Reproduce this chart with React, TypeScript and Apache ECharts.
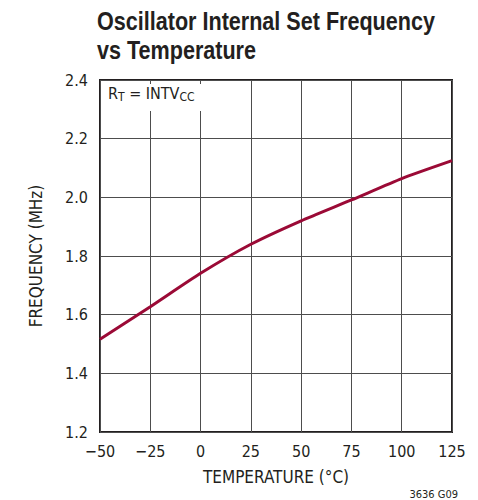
import React, { useEffect, useRef } from "react";
import * as echarts from "echarts";

const temps = [-50, -25, 0, 25, 50, 75, 100, 125];
const freqs = [1.516, 1.627, 1.741, 1.84, 1.92, 1.991, 2.064, 2.125];
const xTicks = [-50, -25, 0, 25, 50, 75, 100, 125];
const yTicks = [1.2, 1.4, 1.6, 1.8, 2.0, 2.2, 2.4];

const FONT = "'DejaVu Sans Condensed', 'Liberation Sans', sans-serif";
const TITLE_FONT = "'Liberation Sans', Arial, sans-serif";
const INK = "#231f20";

export default function App() {
  const ref = useRef<HTMLDivElement>(null);
  useEffect(() => {
    if (!ref.current) return;
    const chart = echarts.init(ref.current, null, { renderer: "svg" });
    chart.setOption({
      animation: false,
      backgroundColor: "#ffffff",
      textStyle: { fontFamily: FONT },
      grid: { left: 100, right: 26, top: 80, bottom: 68, show: true, borderColor: INK, borderWidth: 2 },
      xAxis: {
        type: "value",
        min: -50,
        max: 125,
        interval: 25,
        name: "TEMPERATURE (°C)",
        nameLocation: "middle",
        nameGap: 36,
        nameTextStyle: { fontFamily: FONT, fontSize: 17, color: INK },
        axisLine: { show: false },
        axisTick: { show: false },
        axisLabel: {
          fontFamily: FONT,
          fontSize: 16,
          color: INK,
          margin: 11,
          formatter: (v: number) => (xTicks.includes(v) ? String(v).replace("-", "\u2212") : ""),
        },
        splitLine: { show: true, lineStyle: { color: "#4d4d4d", width: 1 } },
      },
      yAxis: {
        type: "value",
        min: 1.2,
        max: 2.4,
        interval: 0.2,
        name: "FREQUENCY (MHz)",
        nameLocation: "middle",
        nameGap: 56,
        nameTextStyle: { fontFamily: FONT, fontSize: 17, color: INK },
        axisLine: { show: false },
        axisTick: { show: false },
        axisLabel: {
          fontFamily: FONT,
          fontSize: 16,
          color: INK,
          margin: 12,
          formatter: (v: number) => {
            const t = yTicks.find((y) => Math.abs(y - v) < 1e-6);
            return t !== undefined ? t.toFixed(1) : "";
          },
        },
        splitLine: { show: true, lineStyle: { color: "#4d4d4d", width: 1 } },
      },
      graphic: [
        {
          type: "text",
          x: 97,
          y: 6,
          scaleX: 0.83,
          style: {
            text: "Oscillator Internal Set Frequency\nvs Temperature",
            fontFamily: TITLE_FONT,
            fontWeight: "bold",
            fontSize: 26,
            lineHeight: 29,
            fill: INK,
            textAlign: "left",
            textVerticalAlign: "top",
          },
        },
        {
          type: "rect",
          x: 104,
          y: 84,
          shape: { width: 98, height: 27 },
          style: { fill: "#ffffff" },
          z: 10,
        },
        {
          type: "text",
          x: 108,
          y: 85,
          z: 11,
          style: {
            text: "{m|R}{s|T}{m| = INTV}{s|CC}",
            rich: {
              m: { fontFamily: FONT, fontSize: 16, fill: INK, verticalAlign: "top" },
              s: { fontFamily: FONT, fontSize: 12, fill: INK, padding: [6, 0, 0, 0], verticalAlign: "top" },
            },
          },
        },
        {
          type: "text",
          x: 458,
          y: 494,
          style: {
            text: "3636 G09",
            fontFamily: FONT,
            fontSize: 11,
            fill: INK,
            textAlign: "right",
            textVerticalAlign: "middle",
          },
        },
      ],
      series: [
        {
          type: "line",
          data: temps.map((t, i) => [t, freqs[i]]),
          showSymbol: false,
          smooth: 0.2,
          lineStyle: { color: "#9b0a36", width: 3 },
          z: 5,
        },
      ],
    });
    return () => chart.dispose();
  }, []);
  return <div ref={ref} style={{ position: "absolute", left: 0, top: 0, width: 478, height: 500 }} />;
}
